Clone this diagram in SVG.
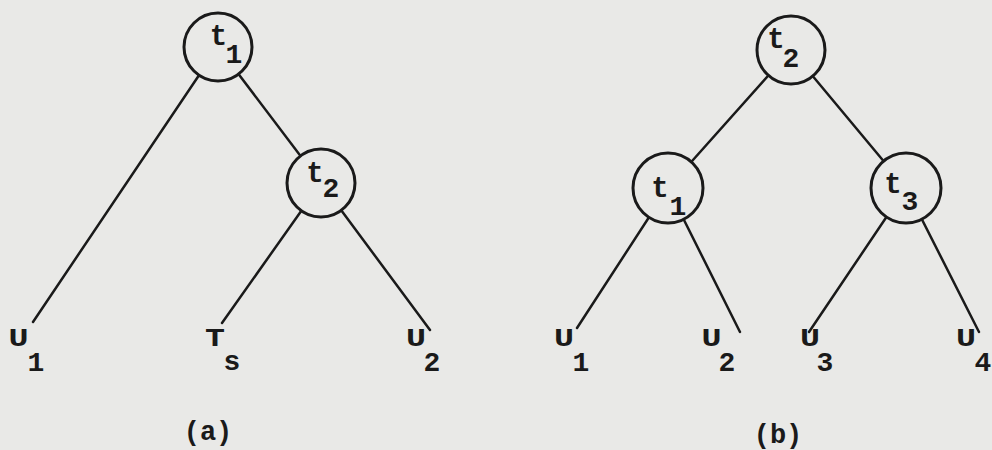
<svg xmlns="http://www.w3.org/2000/svg" width="992" height="450" viewBox="0 0 992 450">
<style>
.bg{fill:#e9e9e7}
.edge{stroke:#1a1a1a;stroke-width:2.5;fill:none;stroke-linecap:round}
.node{fill:#e9e9e7;stroke:#1a1a1a;stroke-width:3}
text{font-family:"Liberation Mono","DejaVu Sans Mono",monospace;fill:#1a1a1a;text-anchor:middle;font-weight:bold}
.t{font-size:29px}
.m{font-size:26px}
.s{font-size:28px}
.cap{font-size:27px}
</style>
<rect class="bg" x="0" y="0" width="992" height="450"/>
<g id="connectors">
<line class="edge" x1="218" y1="47" x2="33" y2="322"/>
<line class="edge" x1="218" y1="47" x2="321" y2="183"/>
<line class="edge" x1="321" y1="183" x2="222" y2="323"/>
<line class="edge" x1="321" y1="183" x2="430" y2="330"/>
<line class="edge" x1="791" y1="50" x2="668" y2="188"/>
<line class="edge" x1="791" y1="50" x2="906" y2="188"/>
<line class="edge" x1="668" y1="188" x2="577" y2="328"/>
<line class="edge" x1="668" y1="188" x2="740" y2="332"/>
<line class="edge" x1="906" y1="188" x2="809" y2="332"/>
<line class="edge" x1="906" y1="188" x2="979" y2="332"/>
</g>
<g id="a-t1"><circle class="node" cx="218" cy="47" r="34"/><text class="t" x="218.5" y="45">t</text><text class="s" x="234" y="63">1</text></g>
<g id="a-t2"><circle class="node" cx="321" cy="183" r="34"/><text class="t" x="315" y="182">t</text><text class="s" x="331" y="197">2</text></g>
<g id="a-U1"><text class="m" x="18.5" y="346" textLength="20" lengthAdjust="spacingAndGlyphs">U</text><text class="s" x="36" y="371">1</text></g>
<g id="a-Ts"><text class="m" x="215" y="346" textLength="20" lengthAdjust="spacingAndGlyphs">T</text><text class="s" x="232" y="370">s</text></g>
<g id="a-U2"><text class="m" x="416" y="346" textLength="20" lengthAdjust="spacingAndGlyphs">U</text><text class="s" x="432" y="371">2</text></g>
<g id="b-t2"><circle class="node" cx="791" cy="50" r="34"/><text class="t" x="776" y="48">t</text><text class="s" x="791" y="67">2</text></g>
<g id="b-t1"><circle class="node" cx="668" cy="188" r="35"/><text class="t" x="660" y="197">t</text><text class="s" x="678" y="215">1</text></g>
<g id="b-t3"><circle class="node" cx="906" cy="188" r="35"/><text class="t" x="893" y="193">t</text><text class="s" x="910" y="210">3</text></g>
<g id="b-U1"><text class="m" x="564" y="346" textLength="20" lengthAdjust="spacingAndGlyphs">U</text><text class="s" x="581" y="371">1</text></g>
<g id="b-U2"><text class="m" x="711.5" y="346" textLength="20" lengthAdjust="spacingAndGlyphs">U</text><text class="s" x="727" y="371">2</text></g>
<g id="b-U3"><text class="m" x="810" y="346" textLength="20" lengthAdjust="spacingAndGlyphs">U</text><text class="s" x="825" y="371">3</text></g>
<g id="b-U4"><text class="m" x="966" y="346" textLength="20" lengthAdjust="spacingAndGlyphs">U</text><text class="s" x="983" y="371">4</text></g>
<text class="cap" x="208" y="440">(a)</text>
<text class="cap" x="778" y="443">(b)</text>
</svg>
